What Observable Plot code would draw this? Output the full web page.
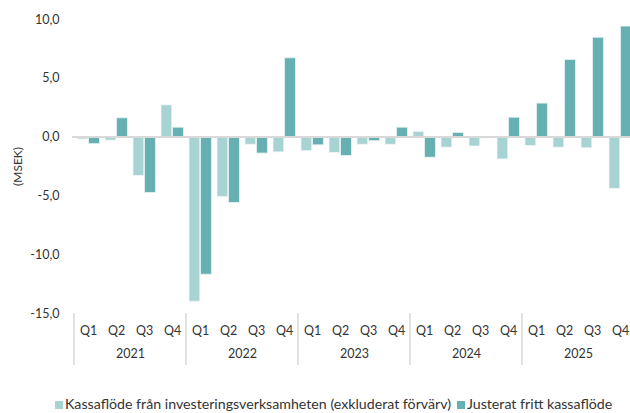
<!DOCTYPE html>
<html><head><meta charset="utf-8">
<script src="https://cdn.jsdelivr.net/npm/d3@7"></script>
<script src="https://cdn.jsdelivr.net/npm/@observablehq/plot@0.6"></script>
<style>
html,body{margin:0;padding:0;overflow:hidden;background:#fff;width:630px;height:413px;}
#chart svg{max-width:none!important;display:block;overflow:visible;}
.legend{font-family:Lato,sans-serif;font-size:14.2px;color:#333;line-height:16px;margin-top:11px;padding-left:55px;white-space:nowrap;}
.legend span.sw{display:inline-block;width:8px;height:8px;margin-right:2px;vertical-align:0px;}
.legend span.item{margin-right:6px;}
</style></head>
<body>
<div id="chart"></div>
<div class="legend" id="legend"></div>
<script>
const years = ["2021", "2022", "2023", "2024", "2025"];
const quarters = ["Q1", "Q2", "Q3", "Q4"];
const seriesNames = ["Kassaflöde från investeringsverksamheten (exkluderat förvärv)", "Justerat fritt kassaflöde"];
const investCF = [-0.2, -0.3, -3.3, 2.7, -14.0, -5.1, -0.65, -1.3, -1.2, -1.35, -0.65, -0.65, 0.45, -0.9, -0.8, -1.9, -0.75, -0.9, -0.95, -4.4];
const adjFCF = [-0.6, 1.6, -4.75, 0.8, -11.7, -5.6, -1.4, 6.7, -0.7, -1.6, -0.35, 0.8, -1.75, 0.35, -0.1, 1.65, 2.85, 6.55, 8.45, 9.4];
const yTicks = [-15, -10, -5, 0, 5, 10];
const yLabel = "(MSEK)";

const colors = ["#a8d3d3", "#67b0b1"];
const periods = years.flatMap(y => quarters.map(q => y + " " + q));
const rows = periods.map((p, i) => ({period: p, invest: investCF[i], fcf: adjFCF[i]}));

const plot = Plot.plot({
  width: 636, height: 385,
  marginTop: 19, marginBottom: 72, marginLeft: 72, marginRight: 0,
  style: {fontFamily: "Lato, sans-serif", fontSize: "12.5px", color: "#333", background: "#fff", overflow: "visible"},
  x: {domain: periods, padding: 0, tickFormat: d => d.slice(5), tickSize: 0, tickPadding: 13, label: null},
  y: {domain: [-15, 10], ticks: yTicks, tickFormat: d => d.toFixed(1).replace(".", ","), tickSize: 0, tickPadding: 13, label: null},
  marks: [
    Plot.barY(rows, {x: "period", y: "invest", fill: colors[0], stroke: "#eef7f7", strokeWidth: 0.8, insetLeft: 3, insetRight: 14.2}),
    Plot.barY(rows, {x: "period", y: "fcf", fill: colors[1], stroke: "#e6f2f2", strokeWidth: 0.8, insetLeft: 14.6, insetRight: 2.6}),
    Plot.ruleY([0], {stroke: "#d9d9d9", strokeWidth: 2}),
    Plot.text(years, {x: y => y + " Q2", text: d => d, frameAnchor: "bottom", dx: 14, dy: 44, fontSize: 12.5, fill: "#333"}),
    Plot.text([yLabel], {frameAnchor: "left", textAnchor: "middle", dx: -54, rotate: -90, text: d => d, fontSize: 12, fill: "#333"})
  ]
});

// year separators from the x/y scales
const xs = plot.scale("x"), ys = plot.scale("y");
const svg = d3.select(plot);
const yb = ys.apply(-15);
years.forEach(y => {
  const x0 = xs.apply(y + " Q1");
  svg.append("line").attr("x1", x0).attr("x2", x0).attr("y1", yb).attr("y2", yb + 52)
    .attr("stroke", "#d9d9d9").attr("stroke-width", 1.5);
});
document.getElementById("chart").appendChild(plot);

const leg = document.getElementById("legend");
seriesNames.forEach((n, i) => {
  const it = document.createElement("span"); it.className = "item";
  const sw = document.createElement("span"); sw.className = "sw"; sw.style.background = colors[i];
  it.appendChild(sw); it.appendChild(document.createTextNode(n));
  leg.appendChild(it);
});
</script>
</body></html>
